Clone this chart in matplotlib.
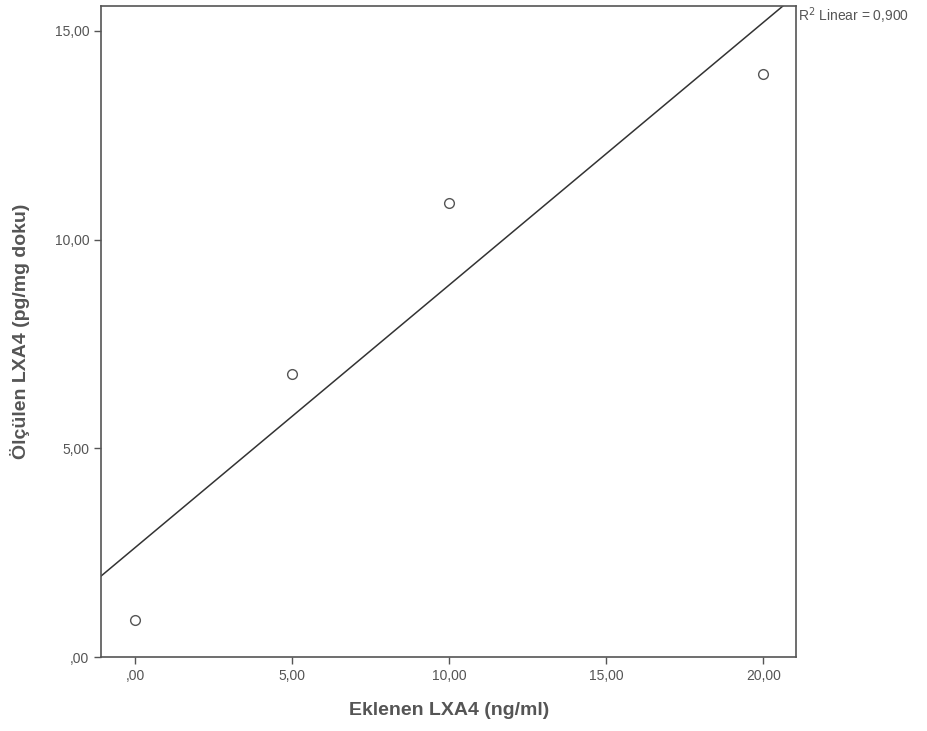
import numpy as np
import matplotlib
matplotlib.use("Agg")
import matplotlib.pyplot as plt

plt.rcParams["font.family"] = ["Liberation Sans", "DejaVu Sans"]

# values
eklenen = np.array([0.0, 5.0, 10.0, 20.0])
olculen = np.array([0.89, 6.78, 10.88, 13.97])
r2_text = "0,900"
xticks = [0, 5, 10, 15, 20]
yticks = [0, 5, 10, 15]


def spss_fmt(v):
    s = "%.2f" % v
    s = s.replace(".", ",")
    if s.startswith("0,"):
        s = s[1:]
    return s


# linear fit
slope, icpt = np.polyfit(eklenen, olculen, 1)

fig = plt.figure(figsize=(9.27, 7.31), dpi=100)
ax = fig.add_axes([0.109, 0.101, 0.750, 0.891])

xmin, xmax = -1.09, 21.05
ymin, ymax = 0, 15.6
xline = np.array([xmin, xmax])
ax.plot(xline, slope * xline + icpt, color="#333333", lw=1.1)
ax.plot(eklenen, olculen, "o", mfc="white", mec="#555555", ms=7, mew=1.0)

ax.set_xlim(xmin, xmax)
ax.set_ylim(ymin, ymax)
ax.set_xticks(xticks)
ax.set_yticks(yticks)
ax.set_xticklabels([spss_fmt(v) for v in xticks])
ax.set_yticklabels([spss_fmt(v) for v in yticks])
ax.tick_params(direction="out", length=5, width=1, colors="#555555",
               labelsize=10, labelcolor="#555555")
for sp in ax.spines.values():
    sp.set_color("#555555")
    sp.set_linewidth(1.2)

ax.set_xlabel("Eklenen LXA4 (ng/ml)", fontsize=14, fontweight="bold",
              color="#555555", labelpad=14)
ax.set_ylabel("Ölçülen LXA4 (pg/mg doku)", fontsize=14, fontweight="bold",
              color="#555555", labelpad=18)

ax.text(1.003, 0.985, "R$^2$ Linear = " + r2_text,
        transform=ax.transAxes, fontsize=10, color="#555555",
        ha="left", va="center")

fig.savefig("out.png", dpi=100)
